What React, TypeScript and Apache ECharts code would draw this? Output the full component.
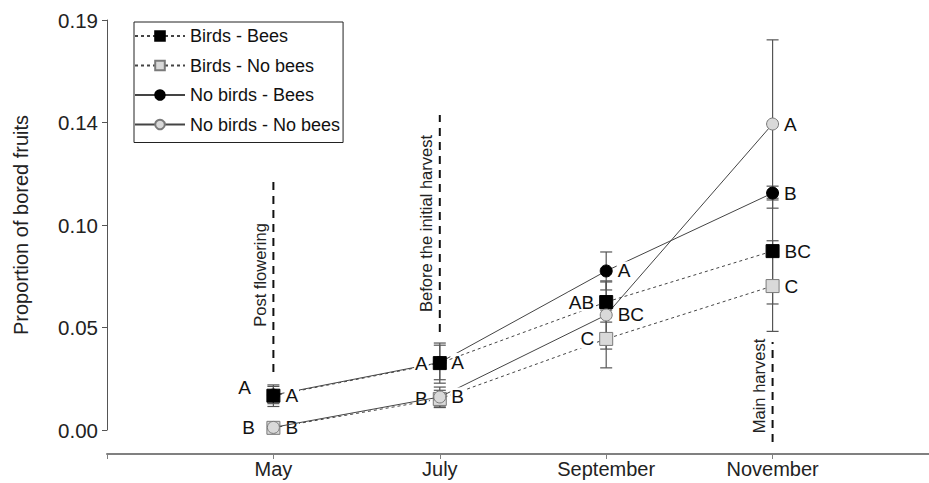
import React, { useEffect, useRef } from 'react';
import * as echarts from 'echarts';

const months = ['May', 'July', 'September', 'November'];
const monthPos = [0, 1, 2, 3];
const yTicks = [0, 0.0475, 0.095, 0.1425, 0.19];
const yTickLabels = ['0.00', '0.05', '0.10', '0.14', '0.19'];

const seriesNames = ['Birds - Bees', 'Birds - No bees', 'No birds - Bees', 'No birds - No bees'];

const birdsBees = [0.0159, 0.031, 0.0593, 0.0829];
const birdsBeesErr = [0.005, 0.0093, 0.0093, 0.0245];
const birdsBeesLetters = ['A', 'A', 'AB', 'BC'];

const birdsNoBees = [0.001, 0.0144, 0.0422, 0.0667];
const birdsNoBeesErr = [0.0012, 0.004, 0.0134, 0.021];
const birdsNoBeesLetters = ['B', 'B', 'C', 'C'];

const noBirdsBees = [0.0162, 0.0313, 0.0737, 0.1098];
const noBirdsBeesErr = [0.004, 0.008, 0.0088, 0.0032];
const noBirdsBeesLetters = ['A', 'A', 'A', 'B'];

const noBirdsNoBees = [0.0012, 0.0153, 0.0533, 0.1418];
const noBirdsNoBeesErr = [0.0012, 0.0046, 0.0158, 0.039];
const noBirdsNoBeesLetters = ['B', 'B', 'BC', 'A'];

const annotTexts = ['Post flowering', 'Before the initial harvest', 'Main harvest'];
const annotMonth = [0, 1, 3];
const annotLow = [0.0269, 0.0454, -0.0056];
const annotHigh = [0.1168, 0.146, 0.0408];

const FONT = '"Liberation Sans", Arial, sans-serif';

export default function App() {
  const ref = useRef<HTMLDivElement>(null);
  useEffect(() => {
    document.body.style.margin = '0';
    const chart = echarts.init(ref.current!, null, { renderer: 'svg' });

    const defs = [
      { name: seriesNames[0], vals: birdsBees, err: birdsBeesErr, letters: birdsBeesLetters,
        pos: ['right', 'left', 'left', 'right'], symbol: 'rect', size: 13, fill: '#000', border: '#000',
        dashed: true, z: 5 },
      { name: seriesNames[1], vals: birdsNoBees, err: birdsNoBeesErr, letters: birdsNoBeesLetters,
        pos: ['right', 'left', 'left', 'right'], symbol: 'rect', size: 13, fill: '#d9d9d9', border: '#7a7a7a',
        dashed: true, z: 4 },
      { name: seriesNames[2], vals: noBirdsBees, err: noBirdsBeesErr, letters: noBirdsBeesLetters,
        pos: ['left', 'right', 'right', 'right'], symbol: 'circle', size: 12, fill: '#000', border: '#000',
        dashed: false, z: 4 },
      { name: seriesNames[3], vals: noBirdsNoBees, err: noBirdsNoBeesErr, letters: noBirdsNoBeesLetters,
        pos: ['left', 'right', 'right', 'right'], symbol: 'circle', size: 12, fill: '#d9d9d9', border: '#7a7a7a',
        dashed: false, z: 5 },
    ];

    const errSeries = defs.map((d, k) => ({
      type: 'custom',
      name: 'err' + k,
      silent: true,
      z: 2,
      encode: { x: 0, y: [1, 2] },
      data: d.vals.map((v, i) => [monthPos[i], v - d.err[i], v + d.err[i]]),
      renderItem: (params: any, api: any) => {
        const x = api.value(0);
        const top = api.coord([x, api.value(2)]);
        const bot = api.coord([x, api.value(1)]);
        const st = { stroke: '#555', lineWidth: 1.2 };
        return {
          type: 'group',
          children: [
            { type: 'line', shape: { x1: top[0], y1: top[1], x2: bot[0], y2: bot[1] }, style: st },
            { type: 'line', shape: { x1: top[0] - 6, y1: top[1], x2: top[0] + 6, y2: top[1] }, style: st },
            { type: 'line', shape: { x1: bot[0] - 6, y1: bot[1], x2: bot[0] + 6, y2: bot[1] }, style: st },
          ],
        };
      },
    }));

    const lineSeries = defs.map((d) => ({
      type: 'line',
      name: d.name,
      z: d.z,
      symbol: d.symbol,
      symbolSize: d.size,
      showAllSymbol: true,
      itemStyle: { color: d.fill, borderColor: d.border, borderWidth: 1 },
      lineStyle: { color: '#444', width: 1, type: d.dashed ? [3, 3] : 'solid' },
      label: {
        show: true, fontSize: 19, color: '#111', fontFamily: FONT, distance: 4,
        backgroundColor: '#fff', padding: [0, 1],
      },
      data: d.vals.map((v, i) => ({
        value: [monthPos[i], v],
        label: {
          formatter: d.letters[i],
          position: d.pos[i],
          ...(d.name === seriesNames[2] && i === 0 ? { distance: 13, offset: [-2, -8] } : {}),
          ...(d.name === seriesNames[3] && i === 0 ? { distance: 11 } : {}),
        },
      })),
    }));

    // dashed annotation lines (drawn through the axes' scales, not clipped)
    const annotLineSeries = annotTexts.map((t, i) => ({
      type: 'line',
      name: 'annotLine' + i,
      silent: true,
      clip: false,
      z: 1,
      symbol: 'none',
      lineStyle: { color: '#111', width: 2, type: [8, 6] },
      data: [
        [annotMonth[i], annotLow[i]],
        [annotMonth[i], annotHigh[i]],
      ],
    }));

    // rotated annotation texts, via transparent mark lines within the axis range
    const annotLabelSeries = {
      type: 'line',
      name: 'annotLabels',
      data: [],
      silent: true,
      markLine: {
        symbol: 'none',
        silent: true,
        animation: false,
        lineStyle: { color: 'rgba(0,0,0,0)', width: 0 },
        label: { show: true, position: 'insideMiddleTop', fontSize: 16.5, color: '#222', fontFamily: FONT, distance: 5 },
        data: annotTexts.map((t, i) => [
          { coord: [annotMonth[i], Math.max(annotLow[i], 0)], label: { formatter: t } },
          { coord: [annotMonth[i], annotHigh[i]] },
        ]),
      },
    };

    chart.setOption({
      animation: false,
      textStyle: { fontFamily: FONT },
      grid: { left: 107, right: 0, top: 20, bottom: 53, containLabel: false },
      legend: {
        data: seriesNames,
        orient: 'vertical',
        left: 134,
        top: 22,
        padding: [5, 3, 9, 0],
        itemGap: 11.5,
        itemWidth: 50,
        itemHeight: 12,
        borderColor: '#222',
        borderWidth: 1,
        borderRadius: 0,
        textStyle: { fontSize: 18, color: '#111', fontFamily: FONT },
      },
      xAxis: {
        type: 'value',
        min: -1,
        max: 3.94,
        interval: 1,
        offset: 24,
        axisLine: { show: true, onZero: false, lineStyle: { color: '#808080', width: 2 } },
        axisTick: { show: true, length: 5, lineStyle: { color: '#808080' }, customValues: [-1, ...monthPos] },
        axisLabel: {
          customValues: monthPos,
          formatter: (v: number) => months[Math.round(v)] ?? '',
          fontSize: 20,
          color: '#222',
          margin: 5,
          fontFamily: FONT,
        },
        splitLine: { show: false },
      },
      yAxis: {
        type: 'value',
        min: 0,
        max: 0.19,
        interval: 0.0475,
        name: 'Proportion of bored fruits',
        nameLocation: 'middle',
        nameGap: 76,
        nameTextStyle: { fontSize: 20, color: '#222', fontFamily: FONT },
        axisLine: { show: true, onZero: false, lineStyle: { color: '#555', width: 1 } },
        axisTick: { show: true, length: 5, lineStyle: { color: '#555' }, customValues: yTicks },
        axisLabel: {
          customValues: yTicks,
          formatter: (v: number) => yTickLabels[Math.round(v / 0.0475)] ?? '',
          fontSize: 20.5,
          color: '#222',
          margin: 9,
          fontFamily: FONT,
        },
        splitLine: { show: false },
      },
      series: [...annotLineSeries, ...errSeries, ...lineSeries, annotLabelSeries],
    });

    return () => chart.dispose();
  }, []);
  return <div ref={ref} style={{ width: 929, height: 483 }} />;
}
